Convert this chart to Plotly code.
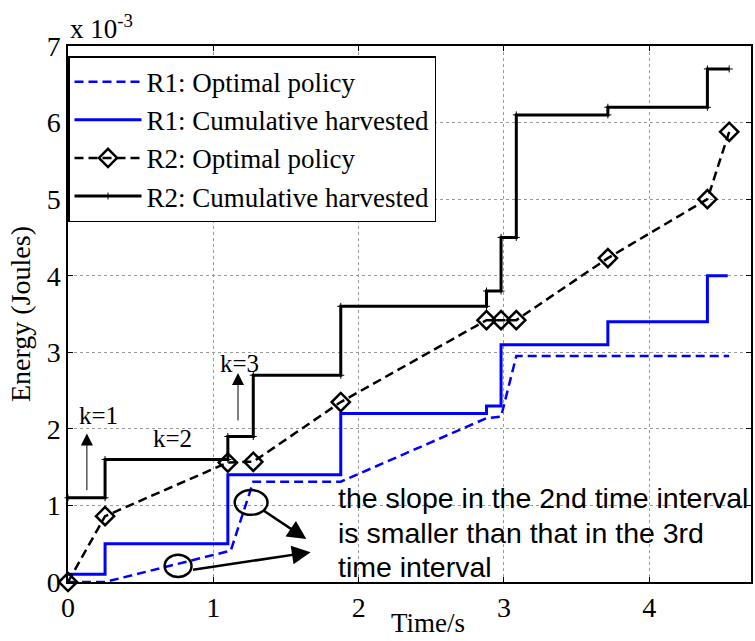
import plotly.graph_objects as go

# ---------------- data (energy in units of 1e-3 J) ----------------
# R2 cumulative harvested: change times and level held after each change
r2_h_times = [0, 0.255, 1.10, 1.275, 1.877, 2.88, 2.98, 3.085, 3.715, 4.40, 4.55]
r2_h_levels = [1.1, 1.6, 1.9, 2.7, 3.6, 3.8, 4.5, 6.1, 6.2, 6.7]

# R1 cumulative harvested
r1_h_times = [0, 0.255, 1.10, 1.877, 2.88, 2.98, 3.715, 4.40, 4.54]
r1_h_levels = [0.1, 0.5, 1.4, 2.2, 2.3, 3.1, 3.4, 4.0]

# R1 optimal policy
r1_opt_t = [0, 0.255, 1.12, 1.275, 1.877, 2.88, 2.98, 3.085, 4.55]
r1_opt_e = [0, 0, 0.41, 1.31, 1.31, 2.14, 2.16, 2.95, 2.95]

# R2 optimal policy
r2_opt_t = [0, 0.255, 1.10, 1.275, 1.877, 2.88, 2.98, 3.085, 3.715, 4.40, 4.55]
r2_opt_e = [0, 0.86, 1.56, 1.57, 2.35, 3.42, 3.42, 3.42, 4.23, 5.0, 5.88]

x_ticks = [0, 1, 2, 3, 4]
y_ticks = [0, 1, 2, 3, 4, 5, 6, 7]

note_lines = ["the slope in the 2nd time interval",
              "is smaller than that in the 3rd",
              "time interval"]


def stairs(times, levels):
    xs, ys = [], []
    for i, lv in enumerate(levels):
        xs += [times[i], times[i + 1]]
        ys += [lv, lv]
    return xs, ys


SERIF = "Liberation Serif, Times New Roman, serif"
SANS = "Liberation Sans, Arial, sans-serif"

fig = go.Figure()

x1, y1 = stairs(r1_h_times, r1_h_levels)
x2, y2 = stairs(r2_h_times, r2_h_levels)

fig.add_trace(go.Scatter(x=r1_opt_t, y=r1_opt_e, mode="lines",
                         name="R1: Optimal policy",
                         line=dict(color="#0000ff", width=2.5, dash="9px,5px"),
                         cliponaxis=False))
fig.add_trace(go.Scatter(x=x1, y=y1, mode="lines",
                         name="R1: Cumulative harvested",
                         line=dict(color="#0000ff", width=3),
                         cliponaxis=False))
fig.add_trace(go.Scatter(x=r2_opt_t, y=r2_opt_e, mode="lines+markers",
                         name="R2: Optimal policy",
                         line=dict(color="black", width=2.5, dash="9px,5px"),
                         marker=dict(symbol="diamond-open", size=14, color="black",
                                     line=dict(width=2.5, color="black")),
                         cliponaxis=False))
fig.add_trace(go.Scatter(x=x2, y=y2, mode="lines+markers",
                         name="R2: Cumulative harvested",
                         line=dict(color="black", width=3),
                         marker=dict(symbol="cross-thin", size=5, color="black",
                                     line=dict(width=1, color="black")),
                         cliponaxis=False))

# ---------------- annotations ----------------
ann = []
ann.append(dict(text="x 10<sup>-3</sup>", xref="paper", yref="paper", x=0, y=1,
                xanchor="left", yanchor="bottom", yshift=0, xshift=0, showarrow=False,
                font=dict(family=SERIF, size=27, color="black")))
ann.append(dict(text="Time/s", xref="paper", yref="paper", x=0.527, y=-0.0765,
                xanchor="center", yanchor="middle", showarrow=False,
                font=dict(family=SERIF, size=27, color="black")))
for txt, xx, yy in [("k=1", 0.21, 2.18), ("k=2", 0.72, 1.88), ("k=3", 1.18, 2.86)]:
    ann.append(dict(text=txt, x=xx, y=yy, xref="x", yref="y", showarrow=False,
                    font=dict(family=SERIF, size=25, color="black")))
# thin upward arrows
for (xa, ya0, ya1) in [(0.13, 1.18, 1.94), (1.17, 2.09, 2.73)]:
    ann.append(dict(x=xa, y=ya1, ax=xa, ay=ya0, xref="x", yref="y", axref="x", ayref="y",
                    text="", showarrow=True, arrowhead=2, arrowsize=2.4, arrowwidth=1,
                    arrowcolor="black"))
# thick arrows from ellipses to the note
for (xs, ys, xe, ye) in [(1.34, 0.94, 1.64, 0.56), (0.85, 0.157, 1.67, 0.39)]:
    ann.append(dict(x=xe, y=ye, ax=xs, ay=ys, xref="x", yref="y", axref="x", ayref="y",
                    text="", showarrow=True, arrowhead=2, arrowsize=1.5, arrowwidth=2.5,
                    arrowcolor="black"))
for i, line in enumerate(note_lines):
    ypix = [498, 533, 567][i]
    ann.append(dict(text=line, xref="x", yref="y", x=1.844, y=(582 - ypix) / 76.6,
                    xanchor="left", yanchor="middle", showarrow=False,
                    font=dict(family=SANS, size=28.5, color="black")))

shapes = [
    dict(type="circle", xref="x", yref="y", x0=1.147, x1=1.373, y0=0.877, y1=1.20,
         line=dict(color="black", width=2.5)),
    dict(type="circle", xref="x", yref="y", x0=0.665, x1=0.85, y0=0.065, y1=0.355,
         line=dict(color="black", width=2.5)),
]

axis_common = dict(showline=True, linecolor="black", linewidth=1.5, mirror="ticks",
                   ticks="inside", ticklen=5, tickcolor="black",
                   showgrid=True, gridcolor="#9a9a9a", gridwidth=1, griddash="dot",
                   zeroline=False,
                   tickfont=dict(family=SERIF, size=28, color="black"))

fig.update_layout(
    width=755, height=641,
    margin=dict(l=68, r=2, t=46, b=59),
    paper_bgcolor="white", plot_bgcolor="white",
    xaxis=dict(range=[0, 4.7], tickvals=x_ticks, ticktext=[str(v) for v in x_ticks],
               **axis_common),
    yaxis=dict(range=[0, 7], tickvals=y_ticks, ticktext=[str(v) for v in y_ticks],
               title=dict(text="Energy (Joules)", standoff=8,
                          font=dict(family=SERIF, size=28, color="black")),
               **axis_common),
    legend=dict(x=0, y=0.981, xanchor="left", yanchor="top",
                bgcolor="white", bordercolor="black", borderwidth=1.5,
                font=dict(family=SERIF, size=27, color="black"),
                itemwidth=67, tracegroupgap=0),
    annotations=ann, shapes=shapes,
    showlegend=True,
)

fig.write_html("out.html")
